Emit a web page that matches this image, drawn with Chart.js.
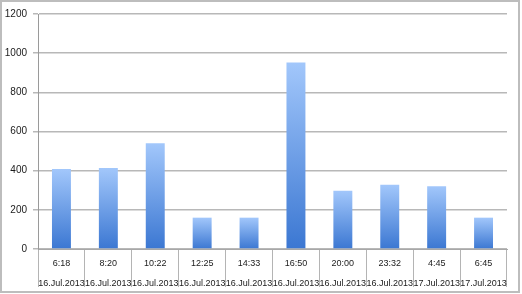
<!DOCTYPE html>
<html>
<head>
<meta charset="utf-8">
<script src="https://cdn.jsdelivr.net/npm/chart.js@4.4.0/dist/chart.umd.min.js"></script>
<style>
  html, body { margin: 0; padding: 0; background: #fff; }
  #wrap { width: 522px; height: 294px; position: relative; }
</style>
</head>
<body>
<div id="wrap"><canvas id="c" width="522" height="294"></canvas></div>
<script>
const times = ["6:18", "8:20", "10:22", "12:25", "14:33", "16:50", "20:00", "23:32", "4:45", "6:45"];
const dates = ["16.Jul.2013", "16.Jul.2013", "16.Jul.2013", "16.Jul.2013", "16.Jul.2013", "16.Jul.2013", "16.Jul.2013", "16.Jul.2013", "17.Jul.2013", "17.Jul.2013"];
const values = [408, 413, 540, 160, 160, 952, 297, 328, 321, 160];
const yTicks = [0, 200, 400, 600, 800, 1000, 1200];

const labels = times.map((t, i) => [t, dates[i]]);

function barGradient(ctx) {
  const chart = ctx.chart;
  const ys = chart.scales && chart.scales.y;
  if (!ys || ctx.dataIndex === undefined) return '#6a9ee8';
  const top = ys.getPixelForValue(ctx.raw);
  const base = ys.getPixelForValue(0);
  if (!isFinite(top) || !isFinite(base) || top === base) return '#6a9ee8';
  const g = chart.ctx.createLinearGradient(0, top, 0, base);
  g.addColorStop(0, '#a2c7fb');
  g.addColorStop(1, '#3b77d2');
  return g;
}

const frame = {
  id: 'frame',
  afterDraw(chart) {
    const c = chart.ctx;
    c.save();
    c.strokeStyle = '#bdbdbd';
    c.lineWidth = 2;
    c.strokeRect(1, 1, 518, 291);
    c.restore();
  }
};

new Chart(document.getElementById('c'), {
  type: 'bar',
  data: {
    labels: labels,
    datasets: [{
      data: values,
      backgroundColor: barGradient,
      borderWidth: 0,
      barPercentage: 0.404,
      categoryPercentage: 1.0
    }]
  },
  options: {
    responsive: false,
    animation: false,
    devicePixelRatio: 1,
    layout: { padding: { left: 0, top: 14, right: 15, bottom: 0 } },
    plugins: { legend: { display: false }, tooltip: { enabled: false } },
    scales: {
      x: {
        grid: {
          display: true,
          drawOnChartArea: false,
          drawTicks: true,
          tickLength: 38,
          color: '#b4b4b4',
          lineWidth: 1,
          offset: true
        },
        border: { display: true, color: '#a8a8a8', width: 1 },
        ticks: {
          autoSkip: false,
          maxRotation: 0,
          minRotation: 0,
          padding: -33,
          color: '#1a1a1a',
          font: { family: 'Liberation Sans', size: 9, lineHeight: 2.2 }
        },
        afterFit(scale) { scale.height = 45; }
      },
      y: {
        min: 0,
        max: 1200,
        afterBuildTicks(scale) { scale.ticks = yTicks.map(v => ({ value: v })); },
        grid: {
          color: '#b8b8b8',
          lineWidth: 1.5,
          drawTicks: true,
          tickLength: 5
        },
        border: { display: true, color: '#9a9a9a', width: 1 },
        ticks: {
          padding: 6,
          color: '#1a1a1a',
          font: { family: 'Liberation Sans', size: 10 },
          callback: (v) => String(v)
        },
        afterFit(scale) { scale.width = 38; }
      }
    }
  },
  plugins: [frame]
});
</script>
</body>
</html>
